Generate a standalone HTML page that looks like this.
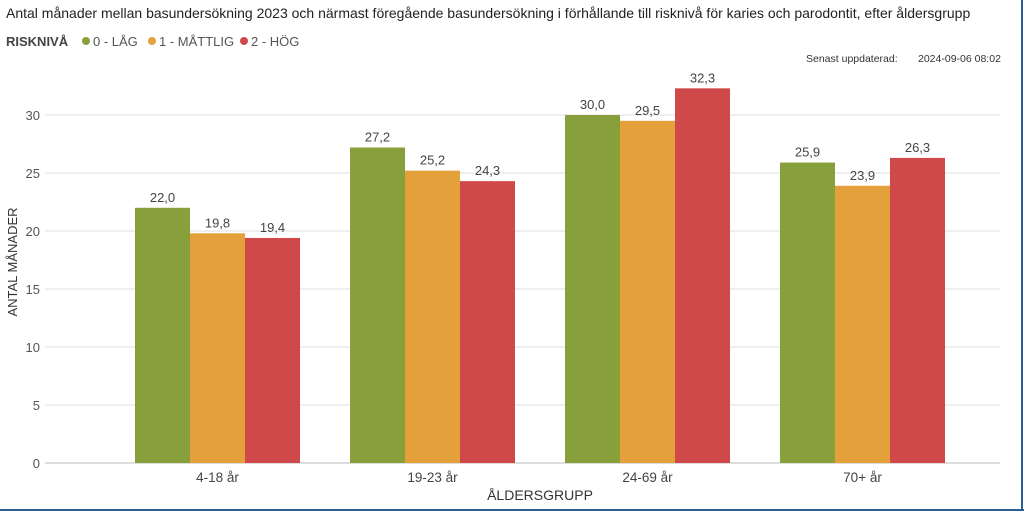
<!DOCTYPE html>
<html><head><meta charset="utf-8"><style>
body{margin:0;width:1024px;height:513px;overflow:hidden;background:#fff;font-family:"Liberation Sans",sans-serif}
#wrap{position:relative;width:1024px;height:513px}
.frame{position:absolute;background:#2b5f94}
</style></head><body><div id="wrap">
<svg id="c" width="1024" height="513" style="position:absolute;left:0;top:0">
<text x="6" y="18" font-size="14" fill="#222">Antal månader mellan basundersökning 2023 och närmast föregående basundersökning i förhållande till risknivå för karies och parodontit, efter åldersgrupp</text>
<text x="6" y="46" font-size="13" font-weight="bold" fill="#444">RISKNIVÅ</text>
<g><circle cx="86" cy="41" r="4" fill="#87a03b"/><text x="93" y="46" font-size="13" fill="#555">0 - LÅG</text></g>
<g><circle cx="152" cy="41" r="4" fill="#e3a03b"/><text x="159" y="46" font-size="13" fill="#555">1 - MÅTTLIG</text></g>
<g><circle cx="244" cy="41" r="4" fill="#d0494a"/><text x="251" y="46" font-size="13" fill="#555">2 - HÖG</text></g>
<text x="806" y="62" font-size="10.5" fill="#333">Senast uppdaterad:</text>
<text x="918" y="62" font-size="10.5" fill="#333">2024-09-06 08:02</text>
<text transform="translate(17,262) rotate(-90)" text-anchor="middle" font-size="13" fill="#333">ANTAL MÅNADER</text>
<text x="540" y="500" text-anchor="middle" font-size="14" fill="#333">ÅLDERSGRUPP</text>
<g id="grid"></g><g id="bars"></g><g id="labels"></g>
</svg>
<div class="frame" style="left:0;top:509px;width:1024px;height:2px"></div>
<div class="frame" style="left:1021px;top:0;width:2px;height:511px"></div>
</div>
<script>
const categories=["4-18 år","19-23 år","24-69 år","70+ år"];
const lag=[22.0,27.2,30.0,25.9];
const mattlig=[19.8,25.2,29.5,23.9];
const hog=[19.4,24.3,32.3,26.3];
const yTicks=[0,5,10,15,20,25,30];
const seriesNames=["lag","mattlig","hog"];
const colors=["#87a03b","#e3a03b","#d0494a"];
const NS="http://www.w3.org/2000/svg";
const y=v=>463-v*11.6;
const x0=110,band=215,bw=55;
function mk(t,a){const e=document.createElementNS(NS,t);for(const k in a)e.setAttribute(k,a[k]);return e;}
const grid=document.getElementById('grid'),bars=document.getElementById('bars'),labels=document.getElementById('labels');
yTicks.forEach(t=>{
 const l=mk('line',{x1:45,x2:1000,y1:y(t),y2:y(t),stroke:t===0?'#ddd':'#eaeaea','stroke-width':t===0?2:1.5});
 
 
 grid.appendChild(l);
 const tx=mk('text',{x:40,y:y(t)+5,'text-anchor':'end','font-size':13,fill:'#555'});tx.textContent=t;
 
 
 grid.appendChild(tx);
});
[lag,mattlig,hog].forEach((s,si)=>{
 s.forEach((v,i)=>{
  const cx=x0+band*i+band/2, bx=cx-bw*1.5+si*bw;
  const r=mk('rect',{x:bx,y:y(v),width:bw,height:463-y(v),fill:colors[si]});
  
  
  bars.appendChild(r);
  const t=mk('text',{x:bx+bw/2,y:y(v)-6,'text-anchor':'middle','font-size':13,fill:'#444'});t.textContent=v.toFixed(1).replace('.',',');
  
  
  labels.appendChild(t);
 });
});
categories.forEach((c,i)=>{
 const t=mk('text',{x:x0+band*i+band/2,y:482,'text-anchor':'middle','font-size':13.5,fill:'#444'});t.textContent=c;
 
 
 labels.appendChild(t);
});
</script></body></html>
